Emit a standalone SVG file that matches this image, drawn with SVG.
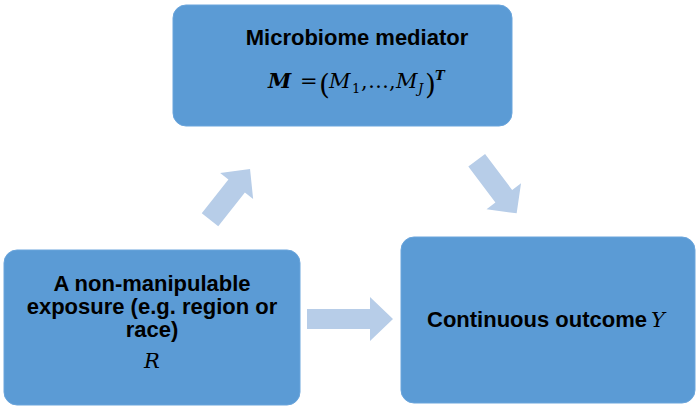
<svg xmlns="http://www.w3.org/2000/svg" width="700" height="411" viewBox="0 0 700 411">
<style>
.box{fill:#5b9bd5;stroke:#6aa5dc;stroke-width:1}
.lbl{font-family:"Liberation Sans",Arial,sans-serif;font-weight:bold;font-size:22px;fill:#000;text-anchor:middle}
.math{font-family:"DejaVu Serif","Liberation Serif",serif;font-style:italic;font-size:21px;fill:#000}
.arrow{fill:#b7cde8}
</style>
<rect width="700" height="411" fill="#fff"/>
<g id="connectors">
<polygon class="arrow" points="0,-10.5 43,-10.5 43,-21 64.6,0 43,21 43,10.5 0,10.5" transform="translate(210,219.7) rotate(-51.7)"/>
<polygon class="arrow" points="0,-10.5 45,-10.5 45,-21.6 66.4,0 45,21.6 45,10.5 0,10.5" transform="translate(476.7,160.3) rotate(53)"/>
<polygon class="arrow" points="307,309 370,309 370,297 393,319 370,341 370,329 307,329"/>
</g>
<g id="mediator">
<rect class="box" x="173" y="5" width="339" height="121" rx="13"/>
<text class="lbl" x="357" y="45">Microbiome mediator</text>
<text class="math"><tspan x="268" y="88" font-weight="bold">M</tspan><tspan x="300" y="88" font-style="normal">=</tspan><tspan x="319" y="94" font-style="normal" font-size="28" font-weight="300">(</tspan><tspan x="329" y="88">M</tspan><tspan x="352" y="93" font-style="normal" font-size="13">1</tspan><tspan x="361" y="88" font-style="normal">,</tspan><tspan x="368" y="88" font-style="normal">…</tspan><tspan x="389" y="88" font-style="normal">,</tspan><tspan x="396" y="88">M</tspan><tspan x="418" y="93" font-size="13">J</tspan><tspan x="425" y="94" font-style="normal" font-size="28" font-weight="300">)</tspan><tspan x="435" y="80" font-weight="bold" font-size="13">T</tspan></text>
</g>
<g id="exposure">
<rect class="box" x="4" y="250" width="296" height="155" rx="13"/>
<text class="lbl" x="152" y="291">A non-manipulable</text>
<text class="lbl" x="152" y="314">exposure (e.g. region or</text>
<text class="lbl" x="152" y="337">race)</text>
<text class="math" x="144" y="368">R</text>
</g>
<g id="outcome">
<rect class="box" x="401" y="237" width="294" height="166" rx="13"/>
<text class="lbl" x="537" y="327">Continuous outcome</text>
<text class="math" x="651" y="327">Y</text>
</g>
</svg>
